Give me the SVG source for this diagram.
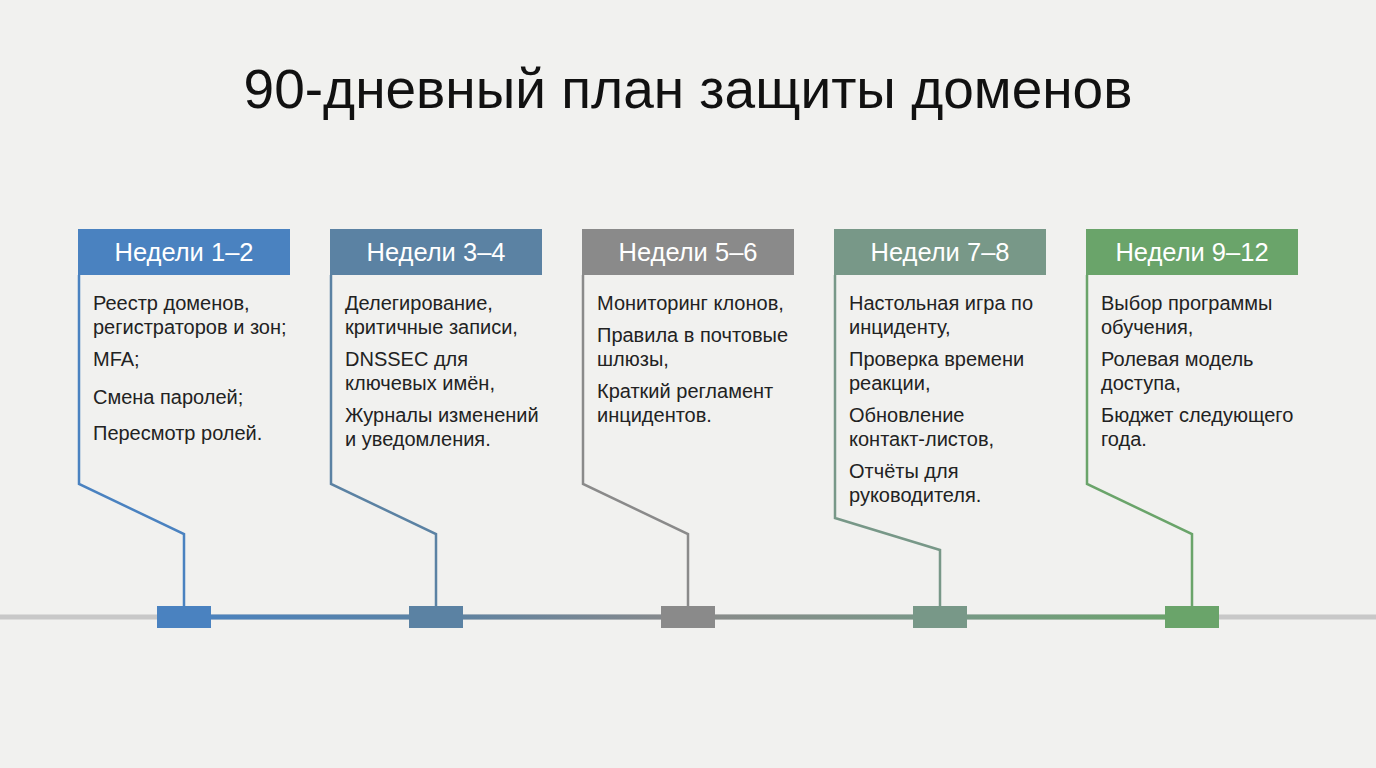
<svg xmlns="http://www.w3.org/2000/svg" width="1376" height="768" viewBox="0 0 1376 768">
<style>
text{font-family:"Liberation Sans",Arial,sans-serif}
.t{font-size:55px;fill:#111}
.h{font-size:25.5px;fill:#fff}
.b{font-size:20px;fill:#222}
.l{fill:none;stroke-width:2.5}
</style>
<defs>
<linearGradient id="g" x1="184" x2="1192" y1="0" y2="0" gradientUnits="userSpaceOnUse">
<stop offset="0" stop-color="#4a82c0"/><stop offset="0.25" stop-color="#5b82a3"/><stop offset="0.5" stop-color="#8a8a8a"/><stop offset="0.75" stop-color="#789888"/><stop offset="1" stop-color="#6aa46a"/>
</linearGradient>
</defs>
<rect width="1376" height="768" fill="#f1f1ef"/>
<text class="t" x="688" y="108" text-anchor="middle">90-дневный план защиты доменов</text>
<g id="connectors">
<line x1="0" y1="617" x2="1376" y2="617" stroke="#c8c8c8" stroke-width="5"/>
<line x1="184" y1="617" x2="1192" y2="617" stroke="url(#g)" stroke-width="5"/>
<path class="l" stroke="#4a82c0" d="M79 275V484L184 534V607"/>
<path class="l" stroke="#5b82a3" d="M331 275V484L436 534V607"/>
<path class="l" stroke="#8a8a8a" d="M583 275V484L688 534V607"/>
<path class="l" stroke="#789888" d="M835 275V518L940 550V607"/>
<path class="l" stroke="#6aa46a" d="M1087 275V484L1192 534V607"/>
</g>
<g id="n1"><rect x="78" y="229" width="212" height="46" fill="#4a82c0"/><rect x="157" y="606" width="54" height="22" fill="#4a82c0"/>
<text class="h" x="184" y="261" text-anchor="middle">Недели 1–2</text>
<text class="b" x="93"><tspan x="93" y="310">Реестр доменов,</tspan><tspan x="93" y="334">регистраторов и зон;</tspan><tspan x="93" y="366">MFA;</tspan><tspan x="93" y="404">Смена паролей;</tspan><tspan x="93" y="440">Пересмотр ролей.</tspan></text></g>
<g id="n2"><rect x="330" y="229" width="212" height="46" fill="#5b82a3"/><rect x="409" y="606" width="54" height="22" fill="#5b82a3"/>
<text class="h" x="436" y="261" text-anchor="middle">Недели 3–4</text>
<text class="b"><tspan x="345" y="310">Делегирование,</tspan><tspan x="345" y="334">критичные записи,</tspan><tspan x="345" y="366">DNSSEC для</tspan><tspan x="345" y="390">ключевых имён,</tspan><tspan x="345" y="422">Журналы изменений</tspan><tspan x="345" y="446">и уведомления.</tspan></text></g>
<g id="n3"><rect x="582" y="229" width="212" height="46" fill="#8a8a8a"/><rect x="661" y="606" width="54" height="22" fill="#8a8a8a"/>
<text class="h" x="688" y="261" text-anchor="middle">Недели 5–6</text>
<text class="b"><tspan x="597" y="310">Мониторинг клонов,</tspan><tspan x="597" y="342">Правила в почтовые</tspan><tspan x="597" y="366">шлюзы,</tspan><tspan x="597" y="398">Краткий регламент</tspan><tspan x="597" y="422">инцидентов.</tspan></text></g>
<g id="n4"><rect x="834" y="229" width="212" height="46" fill="#789888"/><rect x="913" y="606" width="54" height="22" fill="#789888"/>
<text class="h" x="940" y="261" text-anchor="middle">Недели 7–8</text>
<text class="b"><tspan x="849" y="310">Настольная игра по</tspan><tspan x="849" y="334">инциденту,</tspan><tspan x="849" y="366">Проверка времени</tspan><tspan x="849" y="390">реакции,</tspan><tspan x="849" y="422">Обновление</tspan><tspan x="849" y="446">контакт-листов,</tspan><tspan x="849" y="478">Отчёты для</tspan><tspan x="849" y="502">руководителя.</tspan></text></g>
<g id="n5"><rect x="1086" y="229" width="212" height="46" fill="#6aa46a"/><rect x="1165" y="606" width="54" height="22" fill="#6aa46a"/>
<text class="h" x="1192" y="261" text-anchor="middle">Недели 9–12</text>
<text class="b"><tspan x="1101" y="310">Выбор программы</tspan><tspan x="1101" y="334">обучения,</tspan><tspan x="1101" y="366">Ролевая модель</tspan><tspan x="1101" y="390">доступа,</tspan><tspan x="1101" y="422">Бюджет следующего</tspan><tspan x="1101" y="446">года.</tspan></text></g>
</svg>
